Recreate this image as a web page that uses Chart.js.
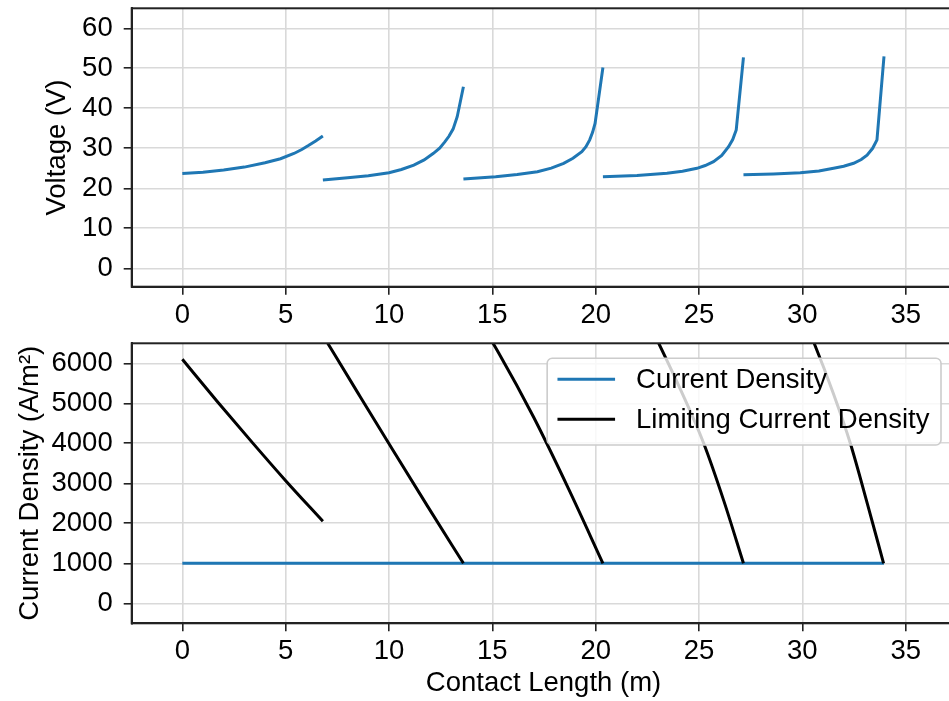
<!DOCTYPE html>
<html>
<head>
<meta charset="utf-8">
<script src="https://cdn.jsdelivr.net/npm/chart.js@4.4.1/dist/chart.umd.min.js"></script>
<style>
  html, body { margin: 0; padding: 0; background: #fff; overflow: hidden; width: 949px; height: 701px; }
  canvas { position: absolute; left: 0; }
  #voltageChart { top: 0; }
  #currentChart { top: 330px; }
</style>
</head>
<body>
<canvas id="voltageChart" width="960" height="330"></canvas>
<canvas id="currentChart" width="960" height="371"></canvas>
<script>
// voltage, one array pair per cell segment
const voltageX1 = [0, 1, 2, 3, 4, 4.75, 5.4, 5.78, 6.1, 6.45, 6.8];
const voltage1 = [23.7, 24.0, 24.55, 25.3, 26.4, 27.4, 28.7, 29.7, 30.7, 31.85, 33.1];
const voltageX2 = [6.8, 8.0, 9.0, 10.0, 10.6, 11.2, 11.7, 12.15, 12.45, 12.7, 12.9, 13.1, 13.3, 13.6];
const voltage2 = [22.1, 22.65, 23.15, 23.9, 24.7, 25.8, 27.1, 28.75, 30.05, 31.6, 33.0, 34.8, 37.9, 45.4];
const voltageX3 = [13.6, 15.16, 16.2, 17.18, 17.85, 18.45, 18.9, 19.33, 19.53, 19.71, 19.85, 19.97, 20.35];
const voltage3 = [22.3, 22.9, 23.45, 24.15, 25.05, 26.25, 27.5, 29.15, 30.4, 32.1, 34.0, 36.2, 50.2];
const voltageX4 = [20.35, 22.0, 23.45, 24.2, 24.9, 25.3, 25.7, 26.1, 26.43, 26.63, 26.8, 27.15];
const voltage4 = [22.9, 23.2, 23.75, 24.25, 25.0, 25.7, 26.65, 28.2, 30.4, 32.2, 34.6, 52.75];
const voltageX5 = [27.15, 28.6, 29.9, 30.8, 31.51, 32.0, 32.48, 32.85, 33.13, 33.4, 33.61, 33.95];
const voltage5 = [23.4, 23.6, 23.9, 24.35, 25.0, 25.5, 26.25, 27.2, 28.3, 30.0, 32.1, 53.0];

// current density
const currentX = [0, 6.8, 13.6, 20.35, 27.15, 33.95];
const currentDensity = [1000, 1000, 1000, 1000, 1000, 1000];

// limiting current density per segment
const limitX1 = [0, 1.7, 3.4, 5.0, 6.8];
const limit1 = [6100, 5040, 4010, 3065, 2050];
const limitX2 = [6.8, 8.5, 10.2, 11.9, 13.6];
const limit2 = [6700, 5255, 3818, 2399, 1000];
const limitX3 = [13.6, 15.3, 17.0, 18.7, 20.35];
const limit3 = [7710, 6265, 4650, 2848, 1000];
const limitX4 = [20.35, 22.0, 23.05, 24.15, 25.22, 26.2, 27.15];
const limit4 = [9170, 7600, 6500, 5290, 4006, 2560, 1000];
const limitX5 = [27.15, 29.0, 30.57, 31.5, 32.32, 33.15, 33.93];
const limit5 = [10326, 8384, 6500, 5245, 4000, 2480, 1000];

const lengthTicks = [0, 5, 10, 15, 20, 25, 30, 35];
const voltageTicks = [0, 10, 20, 30, 40, 50, 60];
const currentTicks = [0, 1000, 2000, 3000, 4000, 5000, 6000];
const legendLabels = ["Current Density", "Limiting Current Density"];

const BLUE = "#1f77b4";
const BLACK = "#000000";
const FONT = "'Liberation Sans', Arial, Helvetica, sans-serif";
const TEXT_SIZE = 27.5;
const LINE_W = 3;
Chart.defaults.font.family = FONT;
Chart.defaults.color = "#000";

const toPoints = (xs, ys) => xs.map((x, i) => ({ x, y: ys[i] }));

const lineSet = (xs, ys, color, label, order, smooth) => ({
  label,
  data: toPoints(xs, ys),
  borderColor: color,
  backgroundColor: color,
  borderWidth: LINE_W,
  pointRadius: 0,
  fill: false,
  tension: 0,
  cubicInterpolationMode: smooth ? "monotone" : "default",
  order,
});

const gridOpts = {
  color: "#d9d9d9",
  lineWidth: 1.6,
  tickColor: "#222",
  tickLength: 8,
  tickWidth: 1.6,
};

const setTicks = (values) => (scale) => {
  scale.ticks = values.map((v) => ({ value: v }));
};

// no extra room for edge labels, the plot box is fixed
const noPad = (scale) => {
  scale.paddingTop = 0;
  scale.paddingBottom = 0;
  scale.paddingLeft = 0;
  scale.paddingRight = 0;
};

const xScale = (showTitle, height) => ({
  type: "linear",
  min: -2.45,
  max: 37.4,
  afterBuildTicks: setTicks(lengthTicks),
  afterFit: (scale) => { scale.height = height; noPad(scale); },
  grid: gridOpts,
  border: { display: true, color: "#222", width: 2 },
  ticks: { font: { size: TEXT_SIZE }, padding: 4, maxRotation: 0, callback: (v) => String(v) },
  title: {
    display: showTitle,
    text: "Contact Length (m)",
    font: { size: TEXT_SIZE },
    padding: { top: 0, bottom: 1.3 },
  },
});

const yScale = (min, max, values, title, titlePad) => ({
  type: "linear",
  min,
  max,
  afterBuildTicks: setTicks(values),
  afterFit: (scale) => { scale.width = 131.7; noPad(scale); },
  grid: gridOpts,
  border: { display: true, color: "#222", width: 2 },
  ticks: { font: { size: TEXT_SIZE }, padding: 11, callback: (v) => String(v) },
  title: {
    display: true,
    text: title,
    font: { size: TEXT_SIZE },
    padding: { top: titlePad, bottom: 0 },
  },
});

// matplotlib style frame round the plot area
const frame = {
  id: "frame",
  afterDatasetsDraw(chart) {
    const { ctx, chartArea: a } = chart;
    ctx.save();
    ctx.strokeStyle = "#222";
    ctx.lineWidth = 2;
    ctx.strokeRect(a.left, a.top, a.right - a.left, a.bottom - a.top);
    ctx.restore();
  },
};

// legend drawn inside the plot, upper right
const legendBox = {
  id: "legendBox",
  afterDatasetsDraw(chart) {
    const { ctx, chartArea: a } = chart;
    const colors = [BLUE, BLACK];
    ctx.save();
    ctx.font = TEXT_SIZE + "px " + FONT;
    const textW = Math.max(...legendLabels.map((t) => ctx.measureText(t).width));
    const w = 10.3 + 57.6 + 21 + textW + 11.5;
    const h = 86.7;
    const right = a.right - 14.3;
    const left = right - w;
    const top = a.top + 15;
    ctx.beginPath();
    ctx.roundRect(left, top, w, h, 5);
    ctx.fillStyle = "rgba(255,255,255,0.8)";
    ctx.fill();
    ctx.strokeStyle = "#cccccc";
    ctx.lineWidth = 1.6;
    ctx.stroke();
    legendLabels.forEach((label, i) => {
      const y = top + 21 + i * 40;
      ctx.strokeStyle = colors[i];
      ctx.lineWidth = LINE_W;
      ctx.beginPath();
      ctx.moveTo(left + 10.3, y);
      ctx.lineTo(left + 67.9, y);
      ctx.stroke();
      ctx.fillStyle = "#000";
      ctx.textAlign = "left";
      ctx.textBaseline = "middle";
      ctx.fillText(label, left + 88.9, y + 1);
    });
    ctx.restore();
  },
};

const voltageChart = new Chart(document.getElementById("voltageChart"), {
  type: "line",
  data: {
    datasets: [
      lineSet(voltageX1, voltage1, BLUE, "Voltage", 0, false),
      lineSet(voltageX2, voltage2, BLUE, "Voltage", 0, false),
      lineSet(voltageX3, voltage3, BLUE, "Voltage", 0, false),
      lineSet(voltageX4, voltage4, BLUE, "Voltage", 0, false),
      lineSet(voltageX5, voltage5, BLUE, "Voltage", 0, false),
    ],
  },
  options: {
    responsive: false,
    animation: false,
    layout: { padding: { top: 8.3, right: 4.7, left: 0, bottom: 0 } },
    plugins: { legend: { display: false }, tooltip: { enabled: false } },
    scales: {
      x: xScale(false, 43.3),
      y: yScale(-4.6, 65, voltageTicks, "Voltage (V)", 41.3),
    },
  },
  plugins: [frame],
});

const currentChart = new Chart(document.getElementById("currentChart"), {
  type: "line",
  data: {
    datasets: [
      lineSet(currentX, currentDensity, BLUE, legendLabels[0], 1, false),
      lineSet(limitX1, limit1, BLACK, legendLabels[1], 0, true),
      lineSet(limitX2, limit2, BLACK, legendLabels[1], 0, true),
      lineSet(limitX3, limit3, BLACK, legendLabels[1], 0, true),
      lineSet(limitX4, limit4, BLACK, legendLabels[1], 0, true),
      lineSet(limitX5, limit5, BLACK, legendLabels[1], 0, true),
    ],
  },
  options: {
    responsive: false,
    animation: false,
    layout: { padding: { top: 13.3, right: 4.7, left: 0, bottom: 0 } },
    plugins: { legend: { display: false }, tooltip: { enabled: false } },
    scales: {
      x: xScale(true, 77.7),
      y: yScale(-500, 6500, currentTicks, "Current Density (A/m²)", 14),
    },
  },
  plugins: [frame, legendBox],
});
</script>
</body>
</html>
